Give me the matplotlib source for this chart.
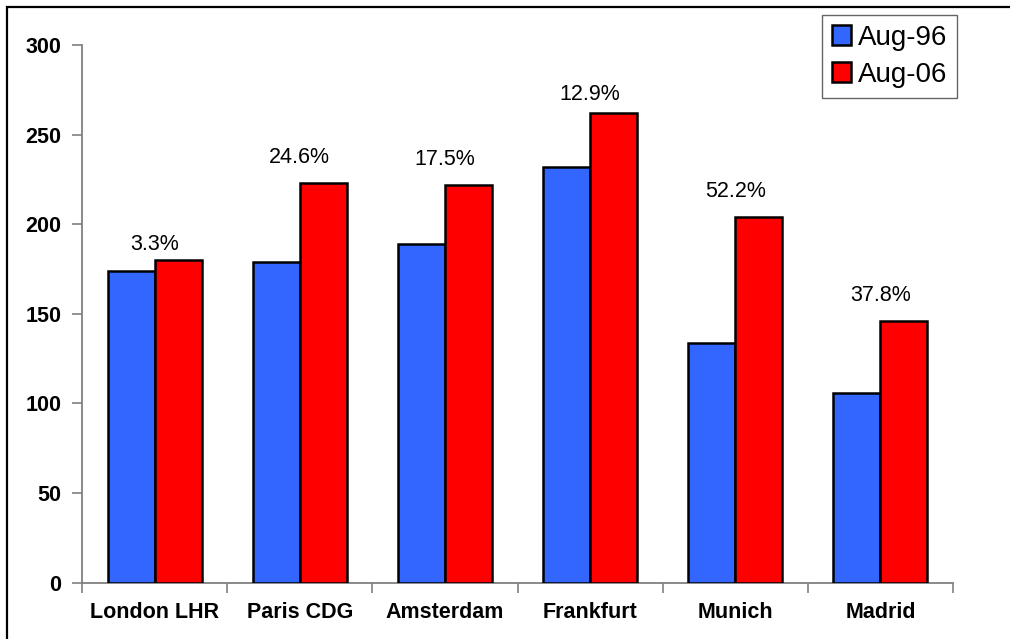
import matplotlib
matplotlib.use("Agg")
import matplotlib.pyplot as plt
from matplotlib.patches import Rectangle
import numpy as np

plt.rcParams['font.family'] = ['Liberation Sans', 'DejaVu Sans']

airports = ["London LHR", "Paris CDG", "Amsterdam", "Frankfurt", "Munich", "Madrid"]
aug96 = [174, 179, 189, 232, 134, 106]
aug06 = [180, 223, 222, 262, 204, 146]
growth_labels = ["3.3%", "24.6%", "17.5%", "12.9%", "52.2%", "37.8%"]
yticks = [0, 50, 100, 150, 200, 250, 300]

# vertical gap (points) between each growth label and its red bar
label_gaps = [3.5, 10.5, 10.5, 5.5, 10.5, 10.5]

fig = plt.figure(figsize=(10.10, 6.39), dpi=100)
ax = fig.add_axes([82 / 1010, 1 - 582.7 / 639, (953 - 82) / 1010, (582.7 - 45) / 639])

x = np.arange(len(airports))
w = 0.324
blue = "#3366FF"
red = "#FF0000"
b1 = ax.bar(x - w / 2, aug96, w, color=blue, edgecolor="black", linewidth=1.8, label="Aug-96", zorder=3)
b2 = ax.bar(x + w / 2, aug06, w, color=red, edgecolor="black", linewidth=1.8, label="Aug-06", zorder=3)

for xi, v, lab, gap in zip(x, aug06, growth_labels, label_gaps):
    ax.annotate(lab, xy=(xi, v), xytext=(0, gap), textcoords="offset points",
                ha="center", va="bottom", fontsize=15.5)

ax.set_xlim(-0.5, len(airports) - 0.5)
ax.set_ylim(0, 300)
ax.set_yticks(yticks)
ax.set_yticklabels([str(t) for t in yticks], fontsize=15.5, fontweight="bold")
ax.set_xticks(x)
ax.set_xticklabels(airports, fontsize=15.5, fontweight="bold")
ax.set_xticks(np.arange(len(airports) + 1) - 0.5, minor=True)
ax.tick_params(axis="x", which="major", length=0, pad=14)
ax.tick_params(axis="x", which="minor", length=7, width=1.2, color="#808080", direction="out")
ax.tick_params(axis="y", length=7, width=1.2, color="#808080", direction="out", pad=8)

for s in ["top", "right"]:
    ax.spines[s].set_visible(False)
for s in ["left", "bottom"]:
    ax.spines[s].set_color("#808080")
    ax.spines[s].set_linewidth(1.3)

leg = fig.legend(handles=[b1, b2], labels=["Aug-96", "Aug-06"], loc="upper left",
                 bbox_to_anchor=(822 / 1010, 1 - 15 / 639), fontsize=20,
                 frameon=True, fancybox=False, handlelength=0.7, handleheight=0.7,
                 handletextpad=0.25, labelspacing=0.4, borderpad=0.35, borderaxespad=0)
leg.get_frame().set_edgecolor("#404040")
leg.get_frame().set_linewidth(1.0)

# outer frame of the chart area
fig.add_artist(Rectangle((7 / 1010, -0.1), 1.2, 1 - 7 / 639 + 0.1, transform=fig.transFigure,
                         fill=False, edgecolor="black", linewidth=1.6))

fig.savefig("out.png", dpi=100)
